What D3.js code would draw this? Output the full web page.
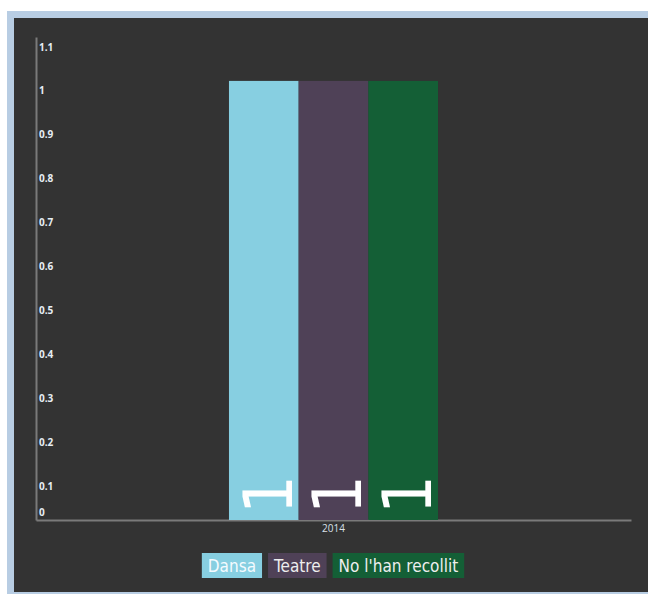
<!DOCTYPE html>
<html>
<head>
    <meta charset="utf-8">
    <style>
        html, body {
            margin: 0;
            padding: 0;
            background: #ffffff;
        }

        svg {
            display: block;
        }

        .tick text {
            font-family: "Open Sans", sans-serif;
            font-weight: bold;
            font-size: 10px;
            fill: #e6eef5;
        }
    </style>
</head>
<body>
<div id="chart"></div>
<script src="https://cdn.jsdelivr.net/npm/d3@7"></script>
<script>
    "use strict";

    const WIDTH = 648;
    const HEIGHT = 594;

    // data
    const years = ["2014"];
    const seriesNames = ["Dansa", "Teatre", "No l'han recollit"];
    const seriesColors = ["#87cfe1", "#4f4157", "#145f36"];
    const values2014 = [1, 1, 1];
    const yTicks = [0, 0.1, 0.2, 0.3, 0.4, 0.5, 0.6, 0.7, 0.8, 0.9, 1, 1.1];

    const LABEL_FONT = "'Liberation Sans Narrow', 'DejaVu Sans Condensed', sans-serif";

    const svg = d3.select("#chart").append("svg")
        .attr("width", WIDTH)
        .attr("height", HEIGHT);

    // frame
    svg.append("rect")
        .attr("x", 7).attr("y", 11)
        .attr("width", WIDTH - 7).attr("height", HEIGHT - 11)
        .attr("fill", "#b8cde3");
    svg.append("rect")
        .attr("x", 14).attr("y", 18)
        .attr("width", WIDTH - 14).attr("height", 574)
        .attr("fill", "#333333");

    const x0 = d3.scaleBand()
        .domain(years)
        .range([36, 631])
        .paddingInner(0.48)
        .paddingOuter(0.48);

    const x1 = d3.scaleBand()
        .domain(seriesNames)
        .range([0, x0.bandwidth()]);

    const y = d3.scaleLinear()
        .domain([0, 1.1])
        .range([520, 37]);

    const color = d3.scaleOrdinal()
        .domain(seriesNames)
        .range(seriesColors);

    // y axis
    const yAxis = svg.append("g")
        .attr("transform", "translate(36,0)")
        .call(d3.axisRight(y).tickValues(yTicks).tickSize(0).tickFormat(d3.format("")));
    yAxis.select(".domain").attr("stroke", "#7a7a7a").attr("stroke-width", 2);
    yAxis.selectAll(".tick text")
        .attr("x", 3)
        .attr("dy", function (d) {
            return d === 0 ? "-0.45em" : "1.3em";
        });

    // x axis
    const xAxis = svg.append("g")
        .attr("transform", "translate(0,520)")
        .call(d3.axisBottom(x0).tickSize(0).tickSizeOuter(0));
    xAxis.select(".domain").attr("stroke", "#7a7a7a").attr("stroke-width", 2);
    xAxis.selectAll(".tick text")
        .attr("dy", "0.9em")
        .style("font-weight", "normal")
        .style("fill", "#d8e0e8");

    // bars
    const rows = years.map(function (yr) {
        return seriesNames.map(function (name, i) {
            return {year: yr, name: name, value: values2014[i]};
        });
    });

    const groups = svg.selectAll("g.year")
        .data(rows)
        .enter()
        .append("g")
        .attr("class", "year")
        .attr("transform", function (d) {
            return "translate(" + x0(d[0].year) + ",0)";
        });

    groups.selectAll("rect")
        .data(function (d) { return d; })
        .enter()
        .append("rect")
        .attr("x", function (d) { return x1(d.name); })
        .attr("width", x1.bandwidth())
        .attr("y", function (d) { return y(d.value); })
        .attr("height", function (d) { return y(0) - y(d.value); })
        .attr("fill", function (d) { return color(d.name); });

    groups.selectAll("text.val")
        .data(function (d) { return d; })
        .enter()
        .append("text")
        .attr("class", "val")
        .attr("transform", function (d) {
            return "translate(" + (x1(d.name) + x1.bandwidth() - 7) + "," + (y(0) - 6) + ") rotate(-90)";
        })
        .style("font-family", LABEL_FONT)
        .style("font-size", "68px")
        .style("fill", "#ffffff")
        .text(function (d) { return d.value; });

    // legend
    const legend = svg.append("g");
    const items = legend.selectAll("g")
        .data(seriesNames)
        .enter()
        .append("g");

    items.append("rect")
        .attr("fill", function (d) { return color(d); });
    items.append("text")
        .style("font-family", LABEL_FONT)
        .style("font-size", "17px")
        .style("fill", function (d, i) { return i === 0 ? "#f4fbff" : "#eeeeee"; })
        .attr("y", 19)
        .text(function (d) { return d; });

    let offset = 0;
    items.each(function () {
        const g = d3.select(this);
        const w = g.select("text").node().getComputedTextLength();
        g.select("text").attr("x", 6);
        g.select("rect").attr("width", w + 12).attr("height", 25);
        g.attr("transform", "translate(" + offset + ",0)");
        offset += w + 12 + 6;
    });
    offset -= 6;
    legend.attr("transform", "translate(" + (333 - offset / 2) + ",553)");
</script>
</body>
</html>
